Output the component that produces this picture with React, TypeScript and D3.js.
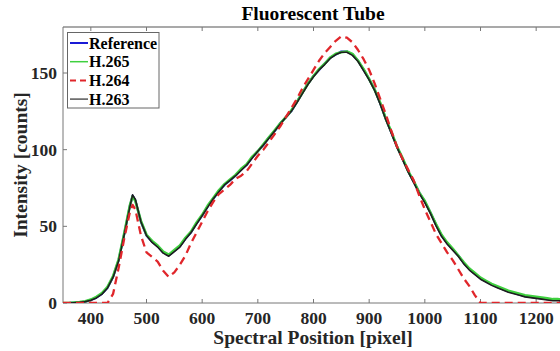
import React from "react";
import * as d3 from "d3";

const positions = [350,360,370,380,390,400,410,420,430,440,450,460,470,475,480,490,500,510,520,530,540,550,560,570,580,590,600,610,620,630,640,650,660,670,680,690,700,710,720,730,740,750,760,770,780,790,800,810,820,830,840,850,860,870,880,890,900,910,920,930,940,950,960,970,980,990,1000,1010,1020,1030,1040,1050,1060,1070,1080,1090,1100,1110,1120,1130,1140,1150,1160,1170,1180,1190,1200,1210,1220,1230,1240,1250];

const reference = [0,0,0.2,0.5,1,2,3.5,6,10,17,28,45,63,70,67,53,44,40,37,33,31,34,37,42,46,52,57,63,68,73,77,80,83,87,90,95,99,103,108,112,117,121,125,131,137,143,148,152,156,160,162,164,164,162,158,152,146,139,130,120,111,102,94,86,79,72,66,59,51,44,39,35,31,26,22,19,16,14,12,10.5,9,7.5,6.5,5.5,4.5,4,3.5,3,2.5,2,2,1.5];

const h265 = [0,0,0.3,0.6,1.2,2.2,4,6.5,10.5,17.5,28.5,45.5,63.5,69.5,66.5,53.5,44.5,40.5,37.5,33.5,31.5,34.5,37.5,42.5,46.5,52.5,57.5,63.5,68.5,73.5,77.5,80.5,83.5,87.5,90.5,95.5,99,103.5,108,112.5,117,121,125.5,131,137,143,148,152.5,156,160,162.5,163.5,164,162.5,158,152.5,146,139,130.5,120,111.5,102,94.5,86,79.5,72,66.5,59,51.5,44.5,39.5,35.5,31,26.5,22.5,19.5,16.5,14.5,12.5,11,9.5,8,7,6,5,4.5,4,3.5,3,2.5,2.5,2];

const h264 = [0,0,0,0,0,0,0,0,0,6,23,42,59,64,61,44,33,30,27,21,17,20,25,31,39,46,53,60,66,71,74,77,81,83,86,91,96,100,105,110,115,121,127,133,140,146,152,158,163,167,171,174,173,170,165,159,152,143,133,123,112,102,94,87,80,70,61,53,45,39,33,28,22,16,11,5,0,0,0,0,0,0,0,0,0,0,0,0,0,0,0,0];

const h263 = [0,0,0.2,0.4,0.9,1.8,3.3,5.8,9.8,16.8,27.5,44.5,62.5,70.5,67.5,53,44,39.5,36.5,32.5,30.5,33.5,36.5,41.5,46,51.5,57,62.5,68,72.5,77,80,83,86.5,90,94.5,99,103,107.5,112,116.5,121,125,130.5,136.5,142.5,147.5,152,155.5,159.5,162,163.5,163.5,161.5,157.5,151.5,145.5,138.5,129.5,119.5,110.5,101.5,93.5,85.5,78.5,71.5,65.5,58.5,50.5,43.5,38.5,34.5,30.5,25.5,21.5,18.5,15.5,13.5,11.5,10,8.5,7,6,5,4,3.5,3,2.5,2,1.5,1.5,1];

const xTicks = [400,500,600,700,800,900,1000,1100,1200];
const yTicks = [0,50,100,150];

const seriesNames = ["Reference","H.265","H.264","H.263"];

const W = 560, H = 351;
const left = 63, right = 564, top = 27, bottom = 303;

export default function App() {
  const x = d3.scaleLinear().domain([350,1250]).range([left,right]);
  const y = d3.scaleLinear().domain([0,180]).range([bottom,top]);
  const line = (vals: number[]) =>
    d3.line<number>().x((_, i) => x(positions[i])).y((d) => y(d))(vals) || "";

  const styles = [
    { data: reference, color: "#1a1ad6", width: 2.2, dash: "" },
    { data: h265, color: "#3fd03f", width: 2.6, dash: "" },
    { data: h263, color: "#1e1e1e", width: 1.6, dash: "" },
    { data: h264, color: "#e0262b", width: 2.3, dash: "8,5" },
  ];
  const legend = [
    { name: seriesNames[0], color: "#1a1ad6", width: 2, dash: "" },
    { name: seriesNames[1], color: "#3fd03f", width: 1.5, dash: "" },
    { name: seriesNames[2], color: "#e0262b", width: 2, dash: "6,4" },
    { name: seriesNames[3], color: "#555", width: 1.5, dash: "" },
  ];
  const font = "'Liberation Serif', 'Times New Roman', serif";
  const axisColor = "#777";
  const tickLen = 4;

  return (
    <svg width={W} height={H} style={{ position: "fixed", left: 0, top: 0, background: "#fff" }} fontFamily={font}>
      <defs>
        <clipPath id="plot">
          <rect x={left} y={top - 2} width={right - left} height={bottom - top + 2} />
        </clipPath>
      </defs>
      <rect x={0} y={0} width={W} height={H} fill="#fff" />
      <line x1={left} x2={right} y1={top} y2={top} stroke="#555" strokeWidth={1.2} />
      <line x1={left} x2={right} y1={bottom} y2={bottom} stroke={axisColor} strokeWidth={1} />
      <line x1={left} x2={left} y1={top} y2={bottom} stroke={axisColor} strokeWidth={1} />
      <line x1={right} x2={right} y1={top} y2={bottom} stroke={axisColor} strokeWidth={1} />
      {xTicks.map((t) => (
        <g key={"x" + t}>
          <line x1={x(t)} x2={x(t)} y1={bottom} y2={bottom - tickLen} stroke={axisColor} />
          <line x1={x(t)} x2={x(t)} y1={top} y2={top + tickLen} stroke={axisColor} />
          <text x={x(t)} y={324} textAnchor="middle" fontSize={17.5} fontWeight="bold" fill="#262626">{t}</text>
        </g>
      ))}
      {yTicks.map((t) => (
        <g key={"y" + t}>
          <line x1={left} x2={left + tickLen} y1={y(t)} y2={y(t)} stroke={axisColor} />
          <line x1={right} x2={right - tickLen} y1={y(t)} y2={y(t)} stroke={axisColor} />
          <text x={57} y={y(t)} dy="0.35em" textAnchor="end" fontSize={17.5} fontWeight="bold" fill="#262626">{t}</text>
        </g>
      ))}
      <g clipPath="url(#plot)">
        {styles.map((s, i) => (
          <path key={i} d={line(s.data)} fill="none" stroke={s.color} strokeWidth={s.width} strokeDasharray={s.dash} strokeLinejoin="round" />
        ))}
      </g>
      <text x={313} y={20} textAnchor="middle" fontSize={19.5} fontWeight="bold" fill="#000">Fluorescent Tube</text>
      <text x={313} y={344} textAnchor="middle" fontSize={19.5} fontWeight="bold" fill="#262626">Spectral Position [pixel]</text>
      <text transform={`translate(27,${(top + bottom) / 2}) rotate(-90)`} textAnchor="middle" fontSize={19.5} fontWeight="bold" fill="#262626">Intensity [counts]</text>
      <rect x={67.5} y={32.5} width={91.5} height={75.5} fill="#fff" stroke="#666" strokeWidth={1} />
      {legend.map((l, i) => {
        const cy = 43 + i * 18.7;
        return (
          <g key={l.name}>
            <line x1={70} x2={88} y1={cy} y2={cy} stroke={l.color} strokeWidth={l.width} strokeDasharray={l.dash} />
            <text x={89} y={cy} dy="0.35em" fontSize={16} fontWeight="bold" fill="#000">{l.name}</text>
          </g>
        );
      })}
    </svg>
  );
}
